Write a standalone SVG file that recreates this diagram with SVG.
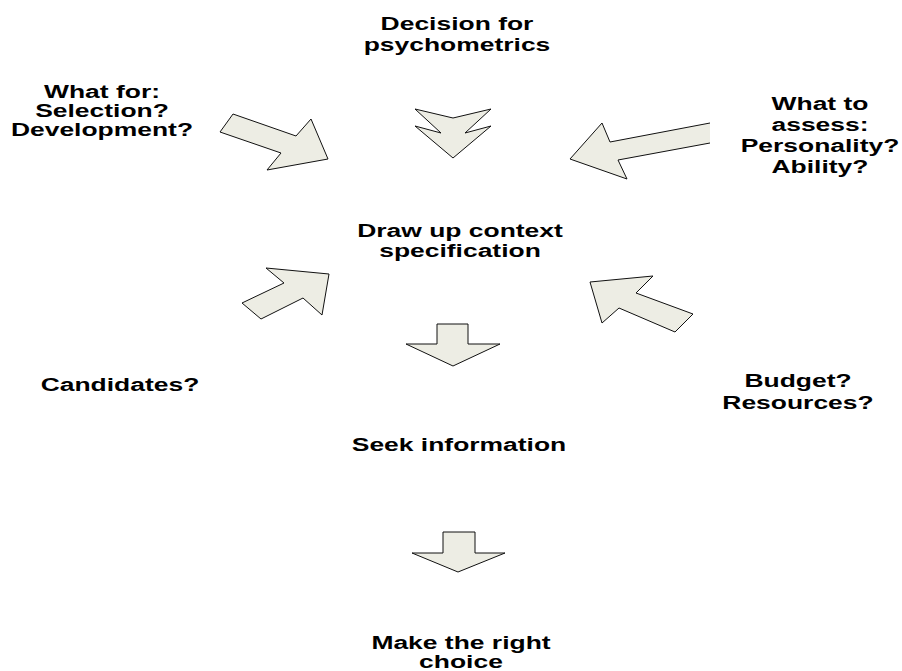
<svg xmlns="http://www.w3.org/2000/svg" width="902" height="671" viewBox="0 0 902 671">
<style>
.t{font-family:"Liberation Sans",Arial,sans-serif;font-weight:bold;font-size:18.5px;fill:#000;text-anchor:middle}
.a{fill:#EDEDE4;stroke:#111;stroke-width:1;stroke-linejoin:miter}
</style>
<rect width="902" height="671" fill="#fff"/>
<g id="connectors">
<polygon class="a" points="233,114 296,136 311,119 328,159 267,170 281,153 220,132"/>
<polygon class="a" points="415,109 441,133 415,126 453,158 491,126 465,133 491,109 453,118"/>
<path class="a" d="M710,143 L618,160 L627,179 L570,159 L602,123 L610,142 L710,123"/>
<polygon class="a" points="266,268 329,274 322,315 303,298 261,319 242,303 284,283"/>
<polygon class="a" points="590,282 653,276 636,293 693,314 675,332 619,308 602,323"/>
<polygon class="a" points="437,324 468,324 468,344 500,344 453,366 406,344 437,344"/>
<polygon class="a" points="443,532 475,532 475,553 505,553 458,572 412,553 443,553"/>
</g>
<g id="decision"><text class="t" transform="translate(457 0) scale(1.43 1)"><tspan x="0" y="30">Decision for</tspan><tspan x="0" y="51">psychometrics</tspan></text></g>
<g id="what-for"><text class="t" transform="translate(102 0) scale(1.43 1)"><tspan x="0" y="98">What for:</tspan><tspan x="0" y="117">Selection?</tspan><tspan x="0" y="136">Development?</tspan></text></g>
<g id="what-to-assess"><text class="t" transform="translate(820 0) scale(1.43 1)"><tspan x="0" y="110">What to</tspan><tspan x="0" y="131">assess:</tspan><tspan x="0" y="152">Personality?</tspan><tspan x="0" y="173">Ability?</tspan></text></g>
<g id="context-spec"><text class="t" transform="translate(460 0) scale(1.43 1)"><tspan x="0" y="237">Draw up context</tspan><tspan x="0" y="257">specification</tspan></text></g>
<g id="candidates"><text class="t" transform="translate(120 0) scale(1.43 1)"><tspan x="0" y="391">Candidates?</tspan></text></g>
<g id="budget"><text class="t" transform="translate(798 0) scale(1.43 1)"><tspan x="0" y="387">Budget?</tspan><tspan x="0" y="409">Resources?</tspan></text></g>
<g id="seek-info"><text class="t" transform="translate(459 0) scale(1.43 1)"><tspan x="0" y="451">Seek information</tspan></text></g>
<g id="right-choice"><text class="t" transform="translate(461 0) scale(1.43 1)"><tspan x="0" y="649">Make the right</tspan><tspan x="0" y="668">choice</tspan></text></g>
</svg>
